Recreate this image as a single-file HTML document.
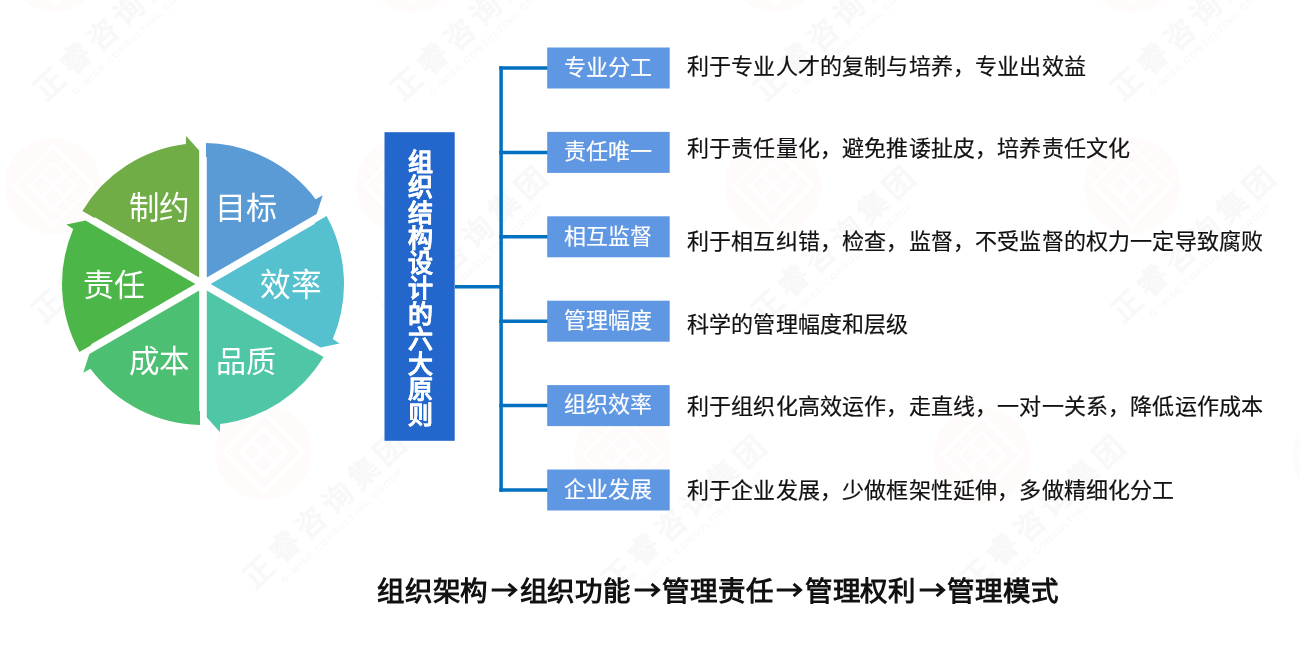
<!DOCTYPE html>
<html lang="zh-CN"><head><meta charset="utf-8">
<style>
html,body{margin:0;padding:0;background:#fff;}
body{width:1300px;height:657px;position:relative;overflow:hidden;font-family:"Liberation Sans",sans-serif;}
svg.full{position:absolute;left:0;top:0;}
.lbl{position:absolute;color:#fff;font-size:30px;line-height:34px;white-space:nowrap;transform-origin:0 0;}
.title{position:absolute;transform:translateZ(0);left:384.5px;top:132.2px;width:70.2px;height:308.6px;color:#fff;padding-left:2px;font-weight:bold;font-size:25px;-webkit-text-stroke:0.2px #fff;text-align:center;box-sizing:border-box;padding-top:18px;}
.title span{display:block;height:25.25px;line-height:25.25px;}
.box{position:absolute;transform:translateZ(0);left:547.2px;width:122.5px;height:41px;color:#fff;-webkit-text-stroke:0.15px #fff;font-size:22px;line-height:41px;text-align:center;}
.desc{position:absolute;transform:translateZ(0);left:687px;font-size:22px;letter-spacing:0.16px;line-height:30px;color:#111;-webkit-text-stroke:0.2px #111;white-space:nowrap;}
.bottom{position:absolute;transform:translateZ(0);left:377px;top:573.5px;font-size:27.5px;letter-spacing:0.8px;line-height:36px;font-weight:bold;color:#111;white-space:nowrap;}
.arr{display:inline-block;vertical-align:middle;position:relative;top:-3.4px;}
</style></head><body>
<svg class="full" width="1300" height="657" viewBox="0 0 1300 657">
<defs><g id="wmlogo"><circle cx="0" cy="0" r="48" fill="#FEFBFA"/><g transform="rotate(45)" fill="none" stroke="#fff" stroke-width="3.5"><rect x="-28" y="-28" width="56" height="56"/><rect x="-16" y="-16" width="32" height="32"/><path d="M-15 0H15M0 -15V15"/></g></g></defs>
<use href="#wmlogo" x="55" y="-36"/><g transform="translate(125 28) rotate(-43)"><text x="0" y="0" text-anchor="middle" font-size="30" font-weight="bold" fill="#F8F8F8" letter-spacing="6">正睿咨询集团</text><text x="0" y="16" text-anchor="middle" font-size="9" fill="#F8F8F8" letter-spacing="1.5">G-WISE CONSULTING GROUP</text></g>
<use href="#wmlogo" x="412" y="-36"/><g transform="translate(482 28) rotate(-43)"><text x="0" y="0" text-anchor="middle" font-size="30" font-weight="bold" fill="#F8F8F8" letter-spacing="6">正睿咨询集团</text><text x="0" y="16" text-anchor="middle" font-size="9" fill="#F8F8F8" letter-spacing="1.5">G-WISE CONSULTING GROUP</text></g>
<use href="#wmlogo" x="775" y="-36"/><g transform="translate(845 28) rotate(-43)"><text x="0" y="0" text-anchor="middle" font-size="30" font-weight="bold" fill="#F8F8F8" letter-spacing="6">正睿咨询集团</text><text x="0" y="16" text-anchor="middle" font-size="9" fill="#F8F8F8" letter-spacing="1.5">G-WISE CONSULTING GROUP</text></g>
<use href="#wmlogo" x="1132" y="-36"/><g transform="translate(1202 28) rotate(-43)"><text x="0" y="0" text-anchor="middle" font-size="30" font-weight="bold" fill="#F8F8F8" letter-spacing="6">正睿咨询集团</text><text x="0" y="16" text-anchor="middle" font-size="9" fill="#F8F8F8" letter-spacing="1.5">G-WISE CONSULTING GROUP</text></g>
<use href="#wmlogo" x="53" y="186"/><g transform="translate(123 250) rotate(-43)"><text x="0" y="0" text-anchor="middle" font-size="30" font-weight="bold" fill="#F8F8F8" letter-spacing="6">正睿咨询集团</text><text x="0" y="16" text-anchor="middle" font-size="9" fill="#F8F8F8" letter-spacing="1.5">G-WISE CONSULTING GROUP</text></g>
<use href="#wmlogo" x="404" y="186"/><g transform="translate(474 250) rotate(-43)"><text x="0" y="0" text-anchor="middle" font-size="30" font-weight="bold" fill="#F8F8F8" letter-spacing="6">正睿咨询集团</text><text x="0" y="16" text-anchor="middle" font-size="9" fill="#F8F8F8" letter-spacing="1.5">G-WISE CONSULTING GROUP</text></g>
<use href="#wmlogo" x="772.8" y="186"/><g transform="translate(842.8 250) rotate(-43)"><text x="0" y="0" text-anchor="middle" font-size="30" font-weight="bold" fill="#F8F8F8" letter-spacing="6">正睿咨询集团</text><text x="0" y="16" text-anchor="middle" font-size="9" fill="#F8F8F8" letter-spacing="1.5">G-WISE CONSULTING GROUP</text></g>
<use href="#wmlogo" x="1132" y="186"/><g transform="translate(1202 250) rotate(-43)"><text x="0" y="0" text-anchor="middle" font-size="30" font-weight="bold" fill="#F8F8F8" letter-spacing="6">正睿咨询集团</text><text x="0" y="16" text-anchor="middle" font-size="9" fill="#F8F8F8" letter-spacing="1.5">G-WISE CONSULTING GROUP</text></g>
<use href="#wmlogo" x="263.5" y="452"/><g transform="translate(333.5 516) rotate(-43)"><text x="0" y="0" text-anchor="middle" font-size="30" font-weight="bold" fill="#F8F8F8" letter-spacing="6">正睿咨询集团</text><text x="0" y="16" text-anchor="middle" font-size="9" fill="#F8F8F8" letter-spacing="1.5">G-WISE CONSULTING GROUP</text></g>
<use href="#wmlogo" x="623" y="455"/><g transform="translate(693 519) rotate(-43)"><text x="0" y="0" text-anchor="middle" font-size="30" font-weight="bold" fill="#F8F8F8" letter-spacing="6">正睿咨询集团</text><text x="0" y="16" text-anchor="middle" font-size="9" fill="#F8F8F8" letter-spacing="1.5">G-WISE CONSULTING GROUP</text></g>
<use href="#wmlogo" x="982" y="455"/><g transform="translate(1052 519) rotate(-43)"><text x="0" y="0" text-anchor="middle" font-size="30" font-weight="bold" fill="#F8F8F8" letter-spacing="6">正睿咨询集团</text><text x="0" y="16" text-anchor="middle" font-size="9" fill="#F8F8F8" letter-spacing="1.5">G-WISE CONSULTING GROUP</text></g>
<use href="#wmlogo" x="1340" y="455"/><g transform="translate(1410 519) rotate(-43)"><text x="0" y="0" text-anchor="middle" font-size="30" font-weight="bold" fill="#F8F8F8" letter-spacing="6">正睿咨询集团</text><text x="0" y="16" text-anchor="middle" font-size="9" fill="#F8F8F8" letter-spacing="1.5">G-WISE CONSULTING GROUP</text></g>
<path fill="#5B9BD5" transform="translate(203 284) rotate(0)" d="M3.80 -6.58 L3.80 -127.00 L3.00 -127.00 L3.00 -140.97 A141 141 0 0 1 112.61 -84.86 L119.77 -88.63 L113.67 -70.01 Z"/>
<path fill="#56C1CE" transform="translate(203 284) rotate(60)" d="M3.80 -6.58 L3.80 -127.00 L3.00 -127.00 L3.00 -140.97 A141 141 0 0 1 112.61 -84.86 L119.77 -88.63 L113.67 -70.01 Z"/>
<path fill="#4FC6A6" transform="translate(203 284) rotate(120)" d="M3.80 -6.58 L3.80 -127.00 L3.00 -127.00 L3.00 -140.97 A141 141 0 0 1 112.61 -84.86 L119.77 -88.63 L113.67 -70.01 Z"/>
<path fill="#4CBF72" transform="translate(203 284) rotate(180)" d="M3.80 -6.58 L3.80 -127.00 L3.00 -127.00 L3.00 -140.97 A141 141 0 0 1 112.61 -84.86 L119.77 -88.63 L113.67 -70.01 Z"/>
<path fill="#4CB748" transform="translate(203 284) rotate(240)" d="M3.80 -6.58 L3.80 -127.00 L3.00 -127.00 L3.00 -140.97 A141 141 0 0 1 112.61 -84.86 L119.77 -88.63 L113.67 -70.01 Z"/>
<path fill="#70AD47" transform="translate(203 284) rotate(300)" d="M3.80 -6.58 L3.80 -127.00 L3.00 -127.00 L3.00 -140.97 A141 141 0 0 1 112.61 -84.86 L119.77 -88.63 L113.67 -70.01 Z"/>
<g stroke="#0070C0" stroke-width="3.5" fill="none">
<line x1="455" y1="286.8" x2="501" y2="286.8"/>
<line x1="501.1" y1="66.25" x2="501.1" y2="491.75"/>
<line x1="499.35" y1="68.0" x2="548" y2="68.0"/>
<line x1="499.35" y1="152.4" x2="548" y2="152.4"/>
<line x1="499.35" y1="236.8" x2="548" y2="236.8"/>
<line x1="499.35" y1="321.2" x2="548" y2="321.2"/>
<line x1="499.35" y1="405.6" x2="548" y2="405.6"/>
<line x1="499.35" y1="490.0" x2="548" y2="490.0"/>
</g>
<rect x="384.5" y="132.2" width="70.2" height="308.6" fill="#2366CC"/>
<rect x="547.2" y="47.50" width="122.5" height="41" fill="#5F97E3"/>
<rect x="547.2" y="131.90" width="122.5" height="41" fill="#5F97E3"/>
<rect x="547.2" y="216.30" width="122.5" height="41" fill="#5F97E3"/>
<rect x="547.2" y="300.70" width="122.5" height="41" fill="#5F97E3"/>
<rect x="547.2" y="385.10" width="122.5" height="41" fill="#5F97E3"/>
<rect x="547.2" y="469.50" width="122.5" height="41" fill="#5F97E3"/>
</svg>
<div class="lbl" style="left:214.72px;top:191.14px;transform:translateZ(0) scale(1.0352,1.0286)">目标</div>
<div class="lbl" style="left:129.28px;top:190.07px;transform:translateZ(0) scale(1.0158,1.0643)">制约</div>
<div class="lbl" style="left:259.98px;top:266.75px;transform:translateZ(0) scale(1.0207,1.075)">效率</div>
<div class="lbl" style="left:215.89px;top:344.85px;transform:translateZ(0) scale(1.0053,1.0018)">品质</div>
<div class="lbl" style="left:83.03px;top:267.82px;transform:translateZ(0) scale(1.0333,1.0393)">责任</div>
<div class="lbl" style="left:128.88px;top:343.94px;transform:translateZ(0) scale(1.0155,1.0321)">成本</div>
<div class="title"><span>组</span><span>织</span><span>结</span><span>构</span><span>设</span><span>计</span><span>的</span><span>六</span><span>大</span><span>原</span><span>则</span></div>
<div class="box" style="top:46.7px">专业分工</div>
<div class="box" style="top:131.1px">责任唯一</div>
<div class="box" style="top:215.5px">相互监督</div>
<div class="box" style="top:299.9px">管理幅度</div>
<div class="box" style="top:384.3px">组织效率</div>
<div class="box" style="top:468.7px">企业发展</div>
<div class="desc" style="top:52.40px">利于专业人才的复制与培养，专业出效益</div>
<div class="desc" style="top:134.40px">利于责任量化，避免推诿扯皮，培养责任文化</div>
<div class="desc" style="top:226.50px">利于相互纠错，检查，监督，不受监督的权力一定导致腐败</div>
<div class="desc" style="top:310.10px">科学的管理幅度和层级</div>
<div class="desc" style="top:392.40px">利于组织化高效运作，走直线，一对一关系，降低运作成本</div>
<div class="desc" style="top:476.45px">利于企业发展，少做框架性延伸，多做精细化分工</div>
<div class="bottom">组织架构<svg class="arr" width="31.4" height="14" viewBox="0 0 31.4 14"><path d="M3.7 7H27M20.6 0.9L27.6 7L20.6 13.1" fill="none" stroke="#111" stroke-width="2.9"/></svg>组织功能<svg class="arr" width="31.4" height="14" viewBox="0 0 31.4 14"><path d="M3.7 7H27M20.6 0.9L27.6 7L20.6 13.1" fill="none" stroke="#111" stroke-width="2.9"/></svg>管理责任<svg class="arr" width="31.4" height="14" viewBox="0 0 31.4 14"><path d="M3.7 7H27M20.6 0.9L27.6 7L20.6 13.1" fill="none" stroke="#111" stroke-width="2.9"/></svg>管理权利<svg class="arr" width="31.4" height="14" viewBox="0 0 31.4 14"><path d="M3.7 7H27M20.6 0.9L27.6 7L20.6 13.1" fill="none" stroke="#111" stroke-width="2.9"/></svg>管理模式</div>
</body></html>
